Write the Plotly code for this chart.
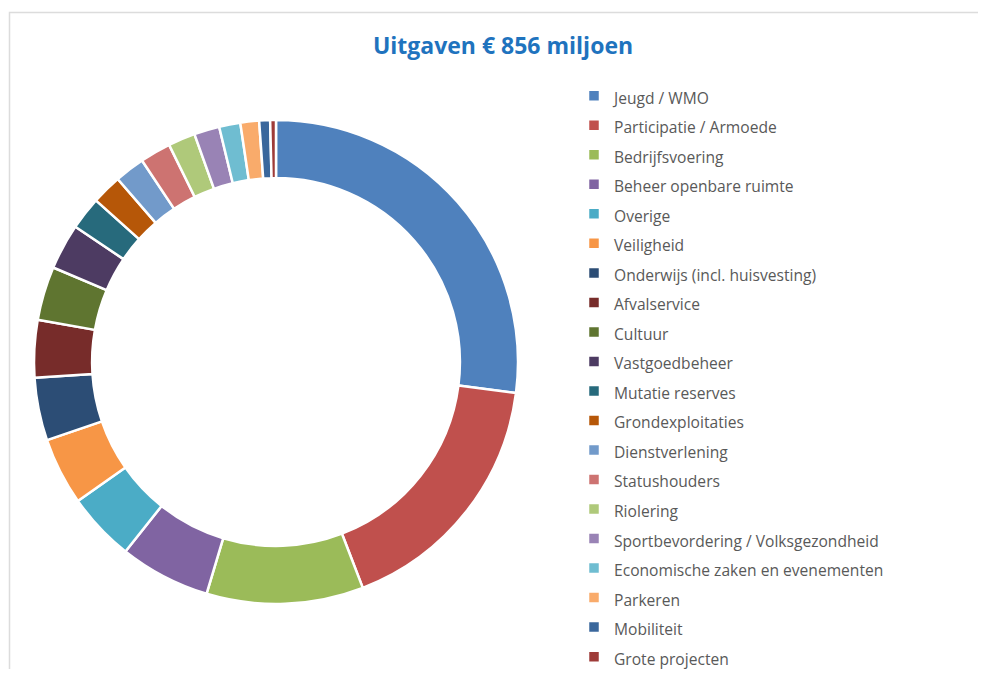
import plotly.graph_objects as go

# Uitgaven per programma (miljoen euro), totaal 856
categories = [
    "Jeugd / WMO", "Participatie / Armoede", "Bedrijfsvoering",
    "Beheer openbare ruimte", "Overige", "Veiligheid",
    "Onderwijs (incl. huisvesting)", "Afvalservice", "Cultuur",
    "Vastgoedbeheer", "Mutatie reserves", "Grondexploitaties",
    "Dienstverlening", "Statushouders", "Riolering",
    "Sportbevordering / Volksgezondheid", "Economische zaken en evenementen",
    "Parkeren", "Mobiliteit", "Grote projecten",
]
values = [
    231.4, 146.5, 89.6, 51.8, 39.2, 38.5, 35.9, 32.8, 30.7, 26.2,
    18.8, 17.2, 17.2, 17.6, 15.5, 14.5, 12.1, 10.7, 6.2, 3.3,
]
colors = [
    "#4F81BD", "#C0504D", "#9BBB59", "#8064A2", "#4BACC6", "#F79646",
    "#2C4D75", "#772C2A", "#5F7530", "#4D3B62", "#276A7C", "#B65708",
    "#729ACA", "#CD7371", "#AFC97A", "#9983B5", "#6FBDD1", "#F9AB6B",
    "#3A679C", "#9E3B38",
]

# page has an 8px body margin, so the figure is 16px smaller than the window
W, H = 970, 661

legend_labels = [f'<span style="font-size:15.6px">{c}</span>' for c in categories]

fig = go.Figure(go.Pie(
    labels=legend_labels,
    values=values,
    hole=0.76,
    sort=False,
    direction="clockwise",
    rotation=0,
    marker=dict(colors=colors, line=dict(color="white", width=2.5)),
    textinfo="none",
    hoverinfo="label+value+percent",
    domain=dict(x=[26 / W, 510 / W], y=[1 - 596 / H, 1 - 112 / H]),
))

fig.update_layout(
    width=W, height=H,
    margin=dict(l=0, r=0, t=0, b=0, autoexpand=False),
    paper_bgcolor="white",
    title=dict(
        text="<b>Uitgaven € 856 miljoen</b>",
        x=495 / W, xanchor="center",
        y=1 - 38 / H, yanchor="middle",
        font=dict(family="Open Sans", size=23, color="#1F73BE"),
    ),
    legend=dict(
        x=566 / W, xanchor="left",
        y=1 - 68 / H, yanchor="top",
        font=dict(family="Open Sans", size=20.4, color="#595959"),
        bgcolor="rgba(0,0,0,0)",
        traceorder="normal",
    ),
    shapes=[dict(
        type="rect", xref="paper", yref="paper",
        x0=1.5 / W, x1=1.05, y0=-0.05, y1=1 - 4.5 / H,
        line=dict(color="#DCDCDC", width=1.5),
    )],
)

fig.write_html("out.html")
